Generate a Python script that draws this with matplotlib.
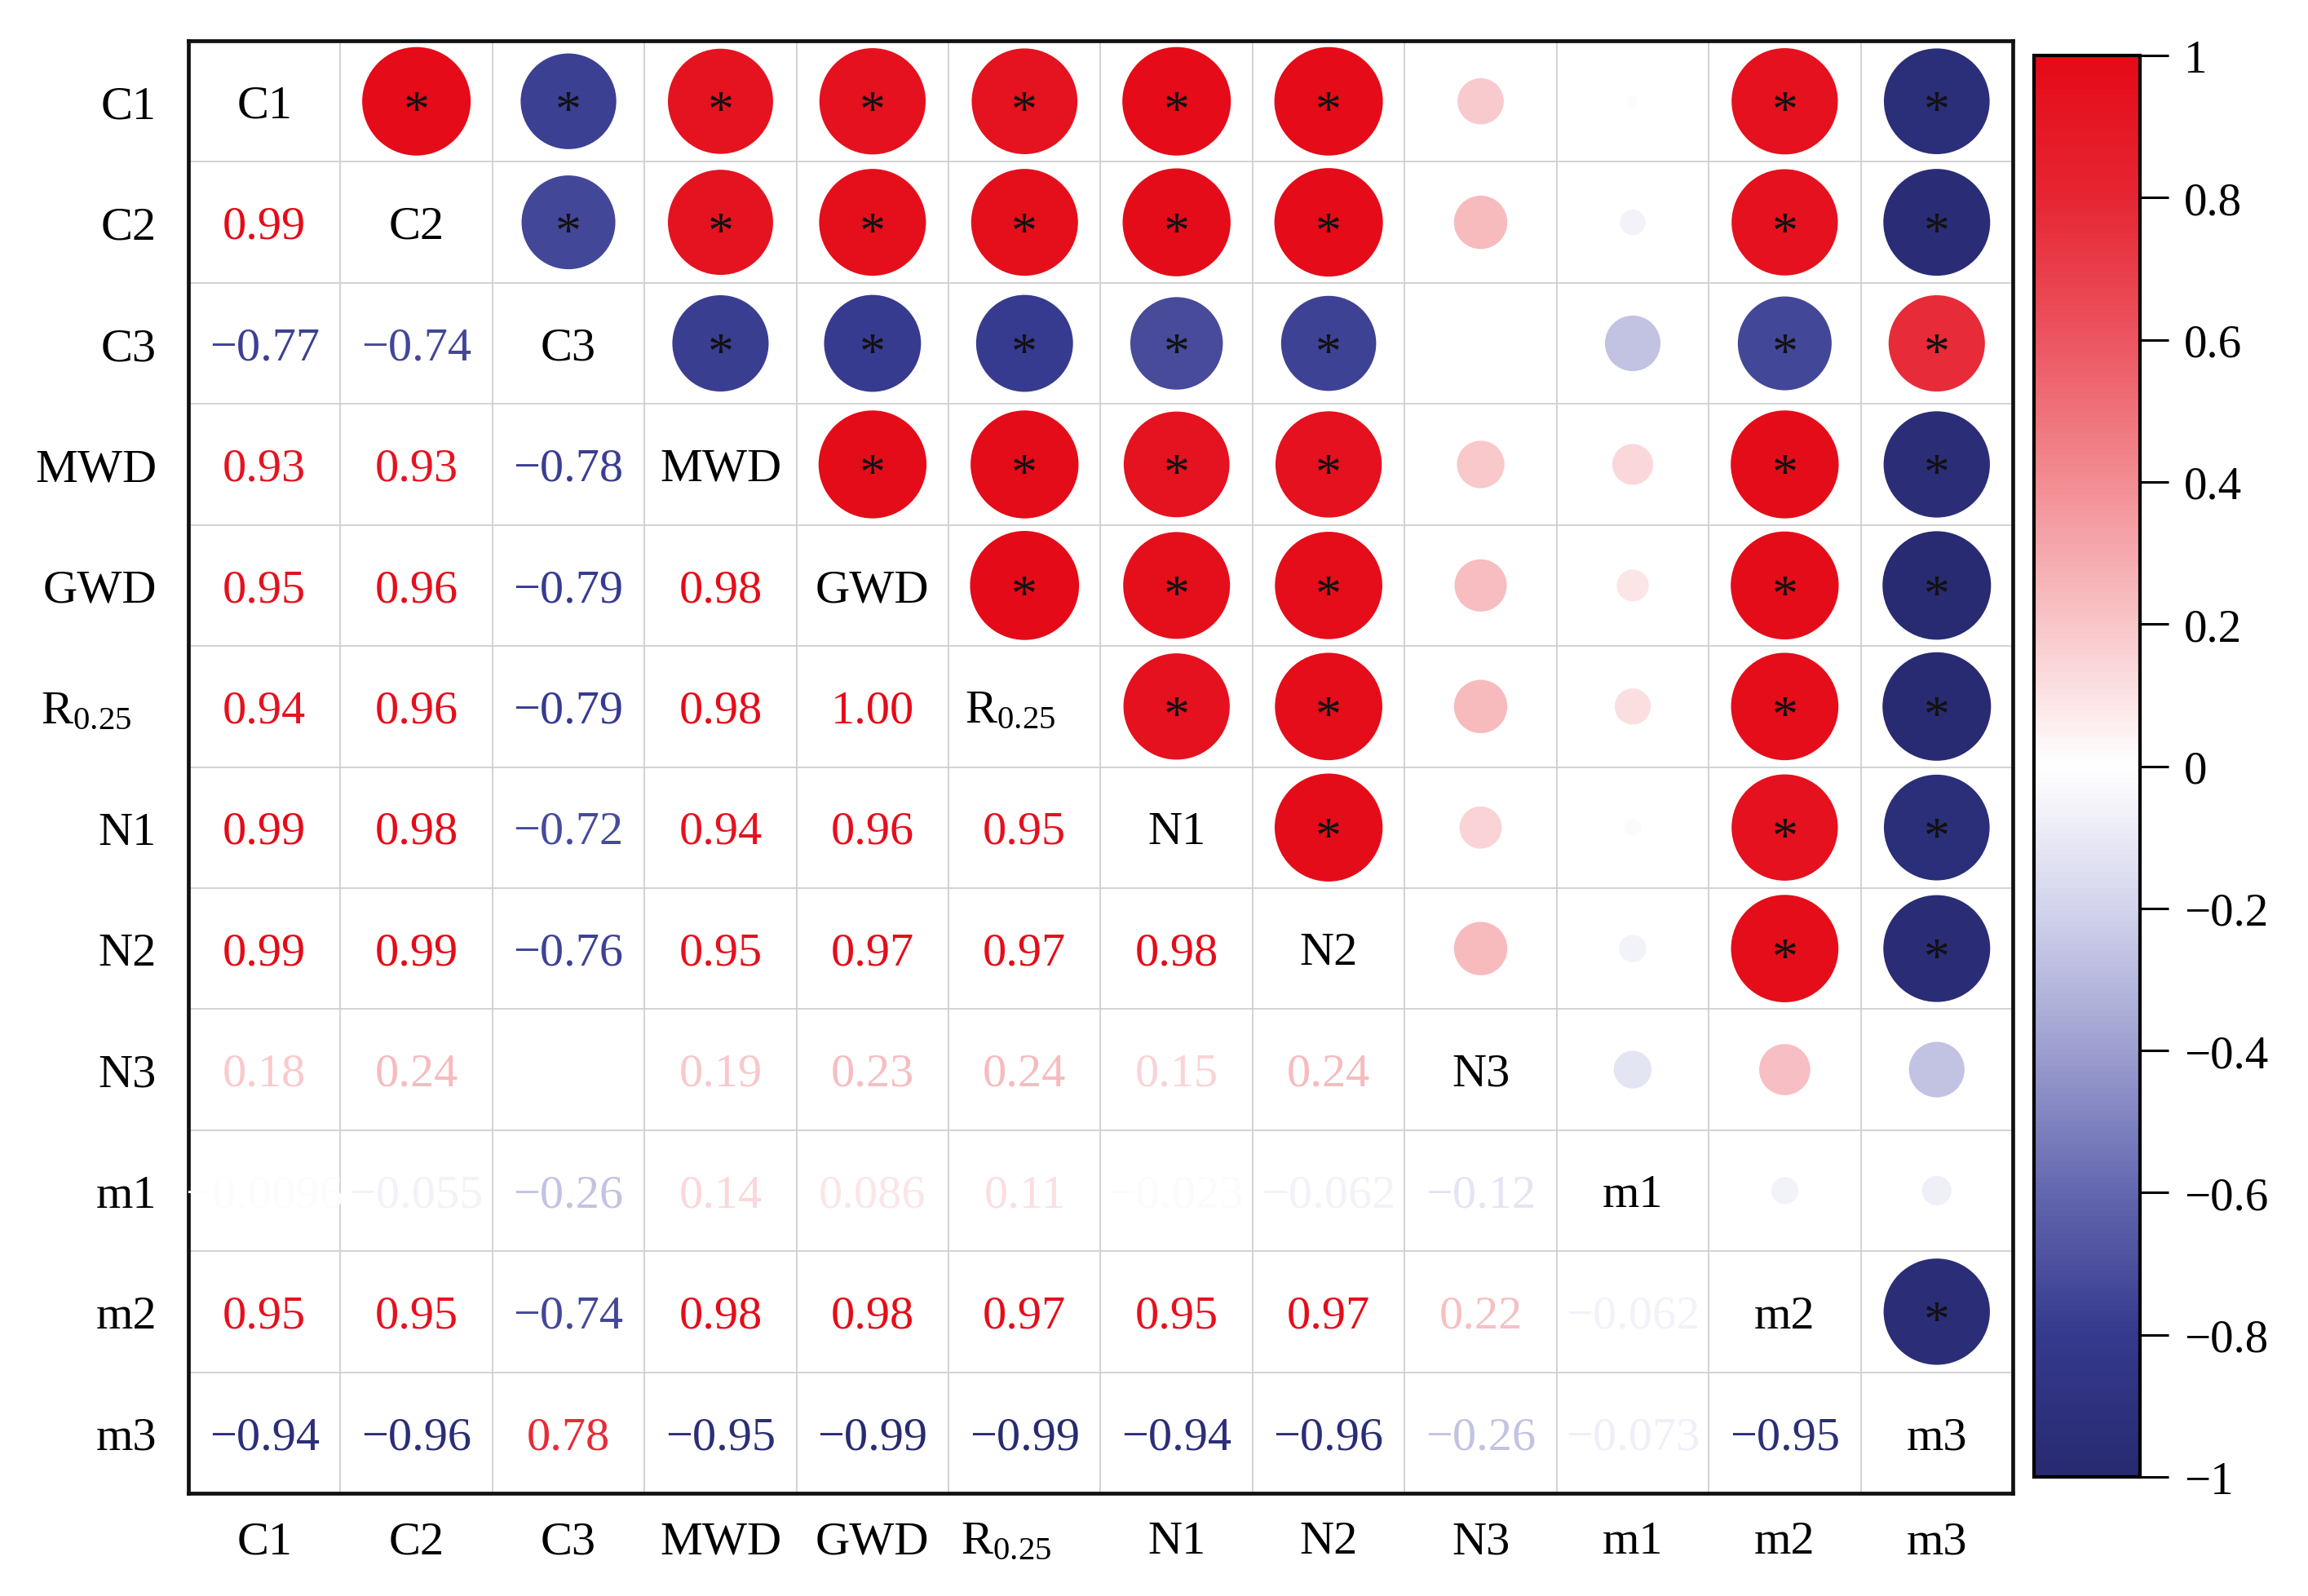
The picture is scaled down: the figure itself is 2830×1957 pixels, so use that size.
import numpy as np
import matplotlib
matplotlib.use("Agg")
import matplotlib.pyplot as plt
from matplotlib.colors import LinearSegmentedColormap, Normalize
from matplotlib.cm import ScalarMappable
from matplotlib.transforms import ScaledTranslation

plt.rcParams['font.family'] = ['Liberation Serif', 'DejaVu Serif']
plt.rcParams['mathtext.fontset'] = 'custom'
plt.rcParams['mathtext.rm'] = 'Liberation Serif'
plt.rcParams['mathtext.it'] = 'Liberation Serif'

# ---- data ----
variables = ["C1", "C2", "C3", "MWD", "GWD", "R$_{0.25}$", "N1", "N2", "N3", "m1", "m2", "m3"]

# lower triangle rows (values left of the diagonal); nan = blank
lower_rows = [
    [],
    [0.99],
    [-0.77, -0.74],
    [0.93, 0.93, -0.78],
    [0.95, 0.96, -0.79, 0.98],
    [0.94, 0.96, -0.79, 0.98, 1.00],
    [0.99, 0.98, -0.72, 0.94, 0.96, 0.95],
    [0.99, 0.99, -0.76, 0.95, 0.97, 0.97, 0.98],
    [0.18, 0.24, np.nan, 0.19, 0.23, 0.24, 0.15, 0.24],
    [-0.0096, -0.055, -0.26, 0.14, 0.086, 0.11, -0.023, -0.062, -0.12],
    [0.95, 0.95, -0.74, 0.98, 0.98, 0.97, 0.95, 0.97, 0.22, -0.062],
    [-0.94, -0.96, 0.78, -0.95, -0.99, -0.99, -0.94, -0.96, -0.26, -0.073, -0.95],
]
label_texts = [
    ["0.99"],
    ["\u22120.77", "\u22120.74"],
    ["0.93", "0.93", "\u22120.78"],
    ["0.95", "0.96", "\u22120.79", "0.98"],
    ["0.94", "0.96", "\u22120.79", "0.98", "1.00"],
    ["0.99", "0.98", "\u22120.72", "0.94", "0.96", "0.95"],
    ["0.99", "0.99", "\u22120.76", "0.95", "0.97", "0.97", "0.98"],
    ["0.18", "0.24", "", "0.19", "0.23", "0.24", "0.15", "0.24"],
    ["\u22120.0096", "\u22120.055", "\u22120.26", "0.14", "0.086", "0.11", "\u22120.023", "\u22120.062", "\u22120.12"],
    ["0.95", "0.95", "\u22120.74", "0.98", "0.98", "0.97", "0.95", "0.97", "0.22", "\u22120.062"],
    ["\u22120.94", "\u22120.96", "0.78", "\u22120.95", "\u22120.99", "\u22120.99", "\u22120.94", "\u22120.96", "\u22120.26", "\u22120.073", "\u22120.95"],
]
sig_threshold = 0.5  # |r| above which a star is shown
cbar_ticks = [-1, -0.8, -0.6, -0.4, -0.2, 0, 0.2, 0.4, 0.6, 0.8, 1]

n = len(variables)
R = np.eye(n)
for i, row in enumerate(lower_rows):
    for j, v in enumerate(row):
        R[i, j] = v
        R[j, i] = v

# ---- colormap ----
cmap = LinearSegmentedColormap.from_list("rb", [
    (0.00, "#272A70"),
    (0.10, "#363A8E"),
    (0.20, "#6367AF"),
    (0.30, "#9D9FD0"),
    (0.40, "#D3D4EC"),
    (0.50, "#FFFFFF"),
    (0.60, "#F8C6C9"),
    (0.70, "#F28D93"),
    (0.80, "#EC5661"),
    (0.90, "#E62633"),
    (1.00, "#E50A17"),
], N=256)
norm = Normalize(vmin=-1, vmax=1)

FS = 42
fig = plt.figure(figsize=(28.30, 19.58), dpi=100)
ax = fig.add_axes([231/2830, 1 - 1832/1958, (2468-231)/2830, (1832-51)/1958])

ax.set_xlim(-0.5, n - 0.5)
ax.set_ylim(n - 0.5, -0.5)

# grid
ax.set_xticks(np.arange(n) + 0.5, minor=True)
ax.set_yticks(np.arange(n) + 0.5, minor=True)
ax.grid(which='minor', color='#cfcfcf', linewidth=1.3)
ax.tick_params(which='both', length=0)
ax.set_axisbelow(True)

ax.set_xticks(np.arange(n))
ax.set_yticks(np.arange(n))
ax.set_xticklabels(variables, fontsize=FS)
ax.set_yticklabels(variables, fontsize=FS)
ax.tick_params(axis='x', pad=24)
ax.tick_params(axis='y', pad=28)
for s in ax.spines.values():
    s.set_linewidth(3.4)
    s.set_color('#111111')

# nudge the subscripted labels as in the original
for lab in ax.get_yticklabels():
    if lab.get_text().startswith("R$"):
        lab.set_transform(lab.get_transform() + ScaledTranslation(-22/72, 0, fig.dpi_scale_trans))
for lab in ax.get_xticklabels():
    if lab.get_text().startswith("R$"):
        lab.set_transform(lab.get_transform() + ScaledTranslation(-16/72, 0, fig.dpi_scale_trans))

# upper triangle circles
xs, ys, vs = [], [], []
for i in range(n):
    for j in range(i + 1, n):
        if not np.isnan(R[i, j]):
            xs.append(j); ys.append(i); vs.append(R[i, j])
xs = np.array(xs); ys = np.array(ys); vs = np.array(vs)
smax = (133.7 * 0.72) ** 2
ax.scatter(xs, ys, c=vs, cmap=cmap, norm=norm, s=smax * np.abs(vs), linewidths=0, zorder=3)
SF = 46
for x, y, v in zip(xs, ys, vs):
    if abs(v) >= sig_threshold:
        ax.annotate("*", (x, y), xytext=(0, -0.47 * SF), textcoords='offset points',
                    ha='center', va='baseline', fontsize=SF, color='#111111', zorder=4)

def cell_text(x, y, s, color, dx=0):
    ax.annotate(s, (x, y), xytext=(dx, -0.33 * FS), textcoords='offset points',
                ha='center', va='baseline', fontsize=FS, color=color, zorder=4)

# diagonal labels
for i in range(n):
    cell_text(i, i, variables[i], 'black', dx=-13 if variables[i].startswith("R$") else 0)

# lower triangle numbers
for i in range(1, n):
    for j in range(i):
        v = R[i, j]
        t = label_texts[i - 1][j]
        if np.isnan(v) or t == "":
            continue
        cell_text(j, i, t, cmap(norm(v)))

# colorbar
cax = fig.add_axes([2494/2830, 1 - 1812/1958, (2624-2494)/2830, (1812-69)/1958])
sm = ScalarMappable(norm=norm, cmap=cmap)
cb = fig.colorbar(sm, cax=cax, ticks=cbar_ticks)
cb.outline.set_linewidth(3)
cb.ax.tick_params(length=25, width=2.2, labelsize=41, pad=14, direction='out')
cb.ax.set_yticklabels([("\u2212" if t < 0 else "") + (f"{abs(t):g}") for t in cbar_ticks])

fig.savefig("out.png", dpi=100, facecolor='white')
